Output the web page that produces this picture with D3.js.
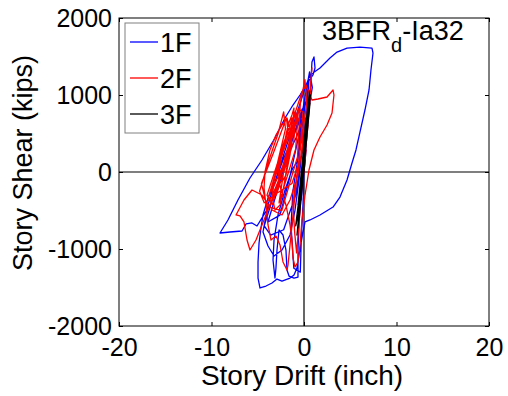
<!DOCTYPE html>
<html>
<head>
<meta charset="utf-8">
<script src="https://cdn.jsdelivr.net/npm/d3@7"></script>
<style>
  body { margin: 0; background: white; }
  text { font-family: "Liberation Sans", Arial, sans-serif; fill: black; }
</style>
</head>
<body>
<div id="chart"></div>
<script>
// story drift (inch), story shear (kips)
var floor1 = [[0,0],[0.22,286],[-0.11,-130],[0.32,481],[-0.32,-364],[0.54,805],[0.76,1195],[0.86,1429],[1.08,1494],[1.19,1351],[0.97,1260],
  [0.22,1130],[-0.43,1000],[-1.19,870],[-2.05,701],[-3.14,442],[-4.54,156],[-5.84,-78],[-7.14,-364],[-8.22,-623],[-9.08,-792],
  [-8.0,-779],[-6.70,-766],[-6.27,-675],[-5.62,-662],[-5.08,-701],[-4.54,-597],[-3.68,-429],[-2.81,-169],[-2.16,91],[-1.51,286],
  [-0.86,442],[-0.43,571],[-0.11,701],[0.32,1000],[0.54,1195],[0.22,675],[-0.22,286],[-0.54,-104],[-0.97,-494],[-1.51,-818],
  [-2.38,-1013],[-3.24,-1091],[-3.89,-961],[-4.43,-779],[-3.89,-429],[-3.24,-169],[-2.38,156],[-1.51,481],[-0.65,805],[0.11,1091],
  [0.65,1260],[1.73,1351],[2.81,1481],[3.57,1558],[4.65,1610],[6.05,1623],[7.35,1610],[7.46,1545],[7.24,1325],[7.03,1065],
  [6.59,805],[6.05,519],[5.62,286],[5.19,117],[4.65,-104],[3.89,-325],[3.14,-455],[1.73,-558],[0.65,-623],[0.11,-649],
  [-0.22,-857],[-0.54,-1078],[-0.76,-1247],[-1.08,-1338],[-1.51,-1377],[-2.38,-1416],[-2.92,-1390],[-3.46,-1442],[-4.11,-1481],[-4.76,-1506],
  [-4.97,-1377],[-4.97,-1169],[-4.86,-922],[-4.65,-727],[-4.43,-558],[-3.89,-338],[-3.14,-130],[-2.27,156],[-1.30,416],[-0.43,675],
  [0,286],[-0.32,-234],[-0.54,-688],[-0.65,-1013],[-0.65,-1364],[-1.08,-1377],[-1.62,-1351],[-1.84,-1273],[-1.95,-1013],[-2.27,-818],
  [-2.70,-753],[-2.92,-1013],[-3.03,-1247],[-3.14,-1377],[-3.35,-1143],[-3.24,-883],[-2.81,-558],[-2.05,-234],[-1.30,26],[-0.65,156],
  [-0.3,700],[0.6,1300],[0.9,1100],[0.2,600],[-0.9,-300],[-2.2,-750],[-3.6,-820],[-4.3,-700],[-3.4,-350],[-2.0,150],[-0.9,560],
  [-0.2,820],[-0.6,450],[-1.6,-100],[-2.6,-560],[-3.9,-650],[-2.9,-250],[-1.7,250],[-0.7,620],[0.1,900],[-0.4,380],[-1.2,-250],
  [-1.4,-700],[-1.1,-1250],[-0.4,-1300],[-0.3,-900],[-0.1,-400],[0,26]];

var floor2 = [[0,0],[0.22,286],[-0.32,-234],[0.43,610],[-0.43,-429],[0.65,935],[0.76,1195],[0.86,1351],[0.65,1065],[0.11,545],
  [-0.65,-39],[-1.51,-364],[-2.38,-558],[-3.46,-494],[-4.54,-299],[-5.62,-234],[-6.49,-364],[-7.35,-558],[-6.92,-571],[-6.49,-649],
  [-6.16,-883],[-5.84,-1013],[-5.19,-883],[-4.54,-688],[-3.68,-429],[-2.81,-169],[-2.05,156],[-1.51,416],[-0.86,701],[-0.43,805],
  [-0.11,779],[-0.43,286],[-0.86,-169],[-1.19,-558],[-1.51,-948],[-1.73,-1208],[-1.84,-1273],[-2.27,-1169],[-2.59,-948],[-3.03,-831],
  [-3.57,-883],[-3.89,-688],[-4.11,-429],[-4.32,-208],[-4.22,0],[-3.68,286],[-3.03,481],[-2.38,610],[-1.84,701],[-1.51,545],
  [-1.73,156],[-2.16,-169],[-2.59,-429],[-3.14,-494],[-3.46,-299],[-3.03,26],[-2.27,351],[-1.51,610],[-0.86,805],[-0.22,1039],
  [0.22,1130],[0.65,1000],[0.86,935],[1.51,948],[2.49,974],[3.14,1065],[3.24,1000],[3.03,766],[2.49,610],[1.73,455],
  [1.08,286],[0.54,26],[0.11,-299],[-0.22,-623],[-0.43,-948],[-0.65,-1169],[-0.97,-1234],[-1.19,-1117],[-1.30,-883],[-1.51,-688],
  [-1.95,-429],[-2.49,-234],[-2.81,-39],[-2.49,156],[-2.05,416],[-1.73,610],[-1.30,740],[-1.08,831],[-1.19,545],[-1.51,221],
  [-1.95,-39],[-2.38,-130],[-2.81,0],[-2.38,221],[-1.73,442],[-1.19,610],[-0.65,701],[-0.22,545],[-0.11,286],
  [-1.3,-150],[-3.9,-350],[-1.3,700],[-1.5,300],[-3.5,-250],[-3.2,-100],[-0.9,780],[-1.1,400],[-3.0,-300],[-2.6,-50],[-0.6,820],
  [-0.9,300],[-2.7,-400],[-2.2,0],[-0.4,880],[-0.7,200],[-2.4,-500],[-4.0,-450],[-4.6,-150],[-3.3,250],[-1.9,700],[-1.6,400],
  [-2.0,100],[-3.6,-350],[-4.3,-400],[-4.8,-250],[-3.8,150],[-2.8,500],[-2.2,780],[-2.0,560],[-2.9,100],[-4.0,-300],[-3.4,-420],
  [-1.9,250],[-0.8,650],[-0.3,950],[0.1,1200],[0.3,900],[-0.5,200],[-1.2,-400],[-1.0,-800],[-0.8,-1050],[-0.5,-600],[-0.2,-150],[0,0]];

var floor3 = [[0,0],[0.11,156],[-0.11,-104],[0.22,351],[-0.22,-234],[0.32,545],[-0.32,-364],[0.43,675],[-0.43,-494],[0.54,805],
  [-0.54,-623],[0.65,896],[-0.65,-727],[0.22,416],[-0.76,-818],[0.11,286],[-0.54,-558],[0.32,610],[-0.65,-429],[0.11,481],
  [-0.43,-234],[0.22,701],[-0.32,-169],[0,286],[-0.22,-39],[0.11,416],[-0.11,91],
  [0.45,880],[0.6,1050],[0.35,700],[-0.3,-100],[-0.5,-400],[0.2,500],[0.5,950],[0.1,350],[-0.4,-300],[-0.2,50],[0.4,800],
  [0.7,1000],[0.3,600],[-0.1,150],[-0.6,-550],[-0.9,-700],[-0.4,-200],[0.2,650],[0.55,900],[0.0,200],[-0.35,-280],[0.15,450],
  [0.6,850],[0.25,450],[-0.15,-50],[0,0]];

var seriesNames = ["1F", "2F", "3F"];
var seriesColors = ["#0000ff", "#ff0000", "#000000"];
var xTicks = [-20, -10, 0, 10, 20];
var yTicks = [-2000, -1000, 0, 1000, 2000];

var width = 508, height = 396;
var plotLeft = 119, plotRight = 489, plotTop = 18, plotBottom = 326;

var svg = d3.select("#chart").append("svg")
    .attr("width", width)
    .attr("height", height);

var x_scale = d3.scaleLinear().domain([-20, 20]).range([plotLeft, plotRight]);
var y_scale = d3.scaleLinear().domain([-2000, 2000]).range([plotBottom, plotTop]);

// zero lines
svg.append("line").attr("x1", x_scale(0)).attr("x2", x_scale(0)).attr("y1", plotTop).attr("y2", plotBottom)
    .attr("stroke", "black").attr("stroke-width", 1.2);
svg.append("line").attr("x1", plotLeft).attr("x2", plotRight).attr("y1", y_scale(0)).attr("y2", y_scale(0))
    .attr("stroke", "black").attr("stroke-width", 1.2);

var line = d3.line()
    .x(function(d) { return x_scale(d[0]); })
    .y(function(d) { return y_scale(d[1]); });

[floor1, floor2, floor3].forEach(function(s, i) {
    svg.append("path")
        .attr("d", line(s))
        .attr("fill", "none")
        .attr("stroke", seriesColors[i])
        .attr("stroke-width", 1.3)
        .attr("stroke-linejoin", "round");
});

// axes
var plain = function(d) { return String(d); };
var x_axis = d3.axisBottom(x_scale).tickValues(xTicks).tickSizeInner(-4).tickSizeOuter(0).tickPadding(12).tickFormat(plain);
var y_axis = d3.axisLeft(y_scale).tickValues(yTicks).tickSizeInner(-4).tickSizeOuter(0).tickPadding(7).tickFormat(plain);
var x_top = d3.axisTop(x_scale).tickValues(xTicks).tickSizeInner(-4).tickSizeOuter(0).tickFormat("");
var y_right = d3.axisRight(y_scale).tickValues(yTicks).tickSizeInner(-4).tickSizeOuter(0).tickFormat("");

function styleAxis(g) {
    g.select(".domain").remove();
    g.selectAll("line").attr("stroke", "black");
    g.selectAll("text").attr("font-size", "25px")
        .attr("font-family", "'Liberation Sans', Arial, sans-serif").attr("fill", "black");
}

svg.append("g").attr("transform", "translate(0," + plotBottom + ")").call(x_axis).call(styleAxis);
svg.append("g").attr("transform", "translate(" + plotLeft + ",0)").call(y_axis).call(styleAxis);
svg.append("g").attr("transform", "translate(0," + plotTop + ")").call(x_top).call(styleAxis);
svg.append("g").attr("transform", "translate(" + plotRight + ",0)").call(y_right).call(styleAxis);

svg.append("rect").attr("x", plotLeft).attr("y", plotTop)
    .attr("width", plotRight - plotLeft).attr("height", plotBottom - plotTop)
    .attr("fill", "none").attr("stroke", "black").attr("stroke-width", 1);

// axis labels
svg.append("text")
    .attr("x", 302).attr("y", 385)
    .attr("text-anchor", "middle")
    .attr("font-size", "28px")
    .text("Story Drift (inch)");

svg.append("text")
    .attr("text-anchor", "middle")
    .attr("transform", "translate(32,163)rotate(-90)")
    .attr("font-size", "27px")
    .text("Story Shear (kips)");

// title
var title = svg.append("text").attr("x", 322).attr("y", 40).attr("font-size", "27px");
title.append("tspan").text("3BFR");
title.append("tspan").attr("dy", 12).attr("font-size", "20px").text("d");
title.append("tspan").attr("dy", -12).text("-Ia32");

// legend
var legend = svg.append("g");
legend.append("rect").attr("x", 125).attr("y", 23).attr("width", 74).attr("height", 110)
    .attr("fill", "white").attr("stroke", "#808080").attr("stroke-width", 1);

var legendY = d3.scalePoint().domain(seriesNames).range([42, 114]);
seriesNames.forEach(function(name, i) {
    legend.append("line")
        .attr("x1", 130).attr("x2", 158)
        .attr("y1", legendY(name)).attr("y2", legendY(name))
        .attr("stroke", seriesColors[i]).attr("stroke-width", 1.3);
    legend.append("text")
        .attr("x", 160).attr("y", legendY(name) + 10)
        .attr("font-size", "27px")
        .text(name);
});
</script>
</body>
</html>
